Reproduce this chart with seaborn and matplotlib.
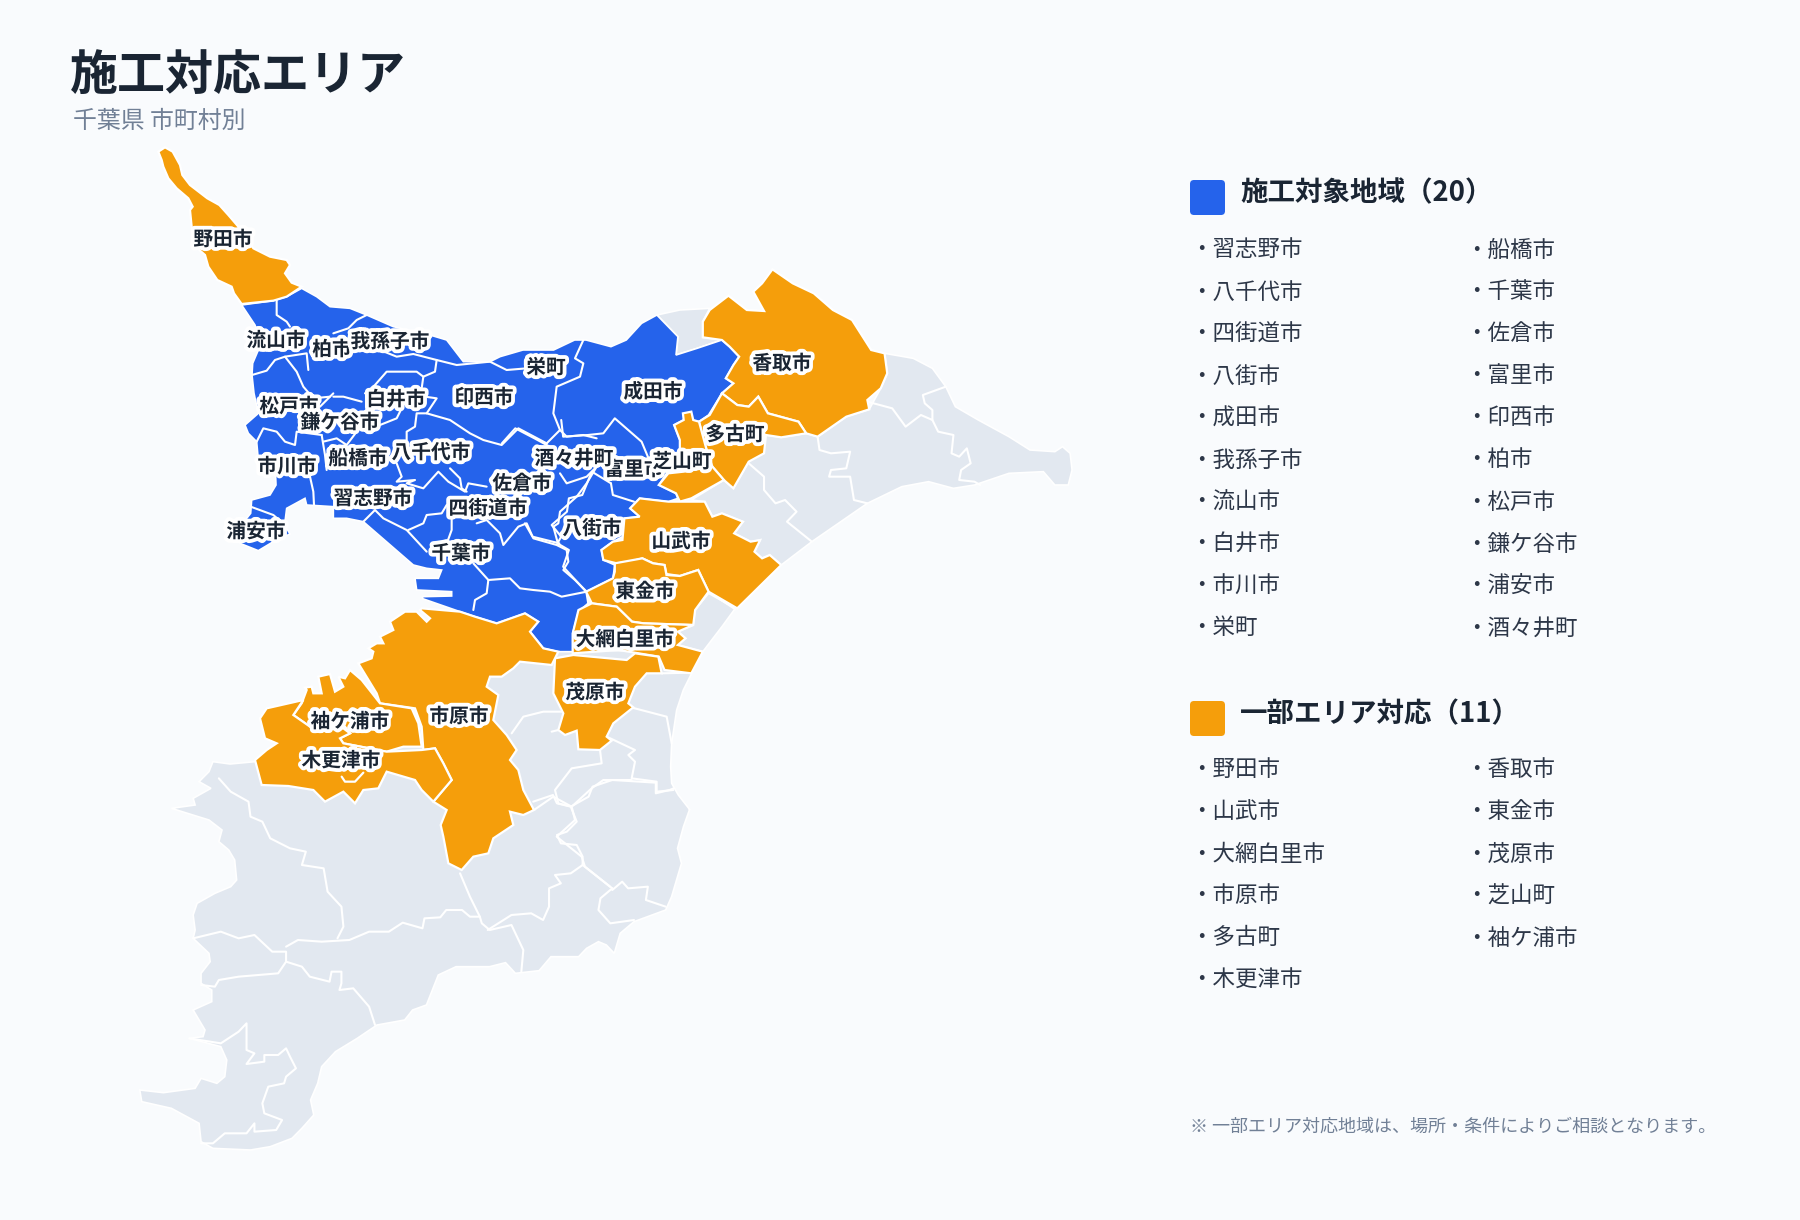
import pandas as pd
import matplotlib
matplotlib.use("Agg")
import matplotlib.pyplot as plt
import matplotlib.patheffects as pe
from matplotlib.patches import FancyBboxPatch
import seaborn as sns

# Text of the chart
title = "施工対応エリア"
subtitle = "千葉県 市町村別"
note = "※ 一部エリア対応地域は、場所・条件によりご相談となります。"
full_heading = "施工対象地域（20）"
part_heading = "一部エリア対応（11）"
full_col1 = ["習志野市", "八千代市", "四街道市", "八街市", "成田市", "我孫子市", "流山市", "白井市", "市川市", "栄町"]
full_col2 = ["船橋市", "千葉市", "佐倉市", "富里市", "印西市", "柏市", "松戸市", "鎌ケ谷市", "浦安市", "酒々井町"]
part_col1 = ["野田市", "山武市", "大網白里市", "市原市", "多古町", "木更津市"]
part_col2 = ["香取市", "東金市", "茂原市", "芝山町", "袖ケ浦市"]

# Map labels, later ones sit on top of earlier ones
map_names = ["野田市", "流山市", "柏市", "我孫子市", "栄町", "成田市", "香取市", "松戸市", "白井市", "印西市",
             "鎌ケ谷市", "多古町", "市川市", "船橋市", "八千代市", "富里市", "酒々井町", "芝山町", "佐倉市",
             "習志野市", "四街道市", "浦安市", "八街市", "山武市", "千葉市", "東金市", "大網白里市", "茂原市",
             "袖ケ浦市", "市原市", "木更津市"]
map_x = [223, 276, 332, 390, 546, 653, 782, 289, 396, 484, 340, 735, 287, 358, 431, 634, 574, 682, 522,
         373, 488, 256, 592, 681, 461, 645, 625, 595, 350, 459, 341]
map_y = [240, 341, 350, 342, 368, 392, 364, 407, 400, 398, 423, 435, 467, 459, 453, 470, 459, 462, 484,
         499, 509, 532, 529, 542, 554, 592, 640, 693, 722, 717, 761]

NW = (130, 130, 3.0, 3.0)
NE = (500, 250, 1568 / 600, 3.0)
MID = (230, 580, 3.0, 3.0)
SW = (120, 760, 1568 / 620, 3.0)


def px(view, pts):
    x0, y0, sx, sy = view
    return [(x0 + a / sx, y0 + b / sy) for a, b in pts]


noda = px(NW, [(85, 65), (105, 52), (128, 65), (150, 105), (157, 135), (180, 165), (232, 205), (268, 225), (295, 255),
               (325, 290), (370, 355), (420, 380), (470, 390), (480, 405), (465, 430), (485, 458), (515, 470),
               (470, 500), (430, 512), (335, 522), (312, 490), (305, 470), (262, 450), (235, 410), (225, 375),
               (208, 360), (185, 290), (180, 240), (188, 230), (175, 205), (140, 175), (115, 145), (100, 110), (95, 90)])
katori = px(NE, [(548, 180), (597, 137), (645, 180), (690, 183), (662, 125), (685, 100), (712, 58), (765, 100),
                 (820, 130), (870, 180), (920, 210), (970, 300), (1005, 310), (1012, 370), (995, 415), (960, 450),
                 (965, 478), (905, 500), (830, 560), (800, 550), (780, 515), (700, 490), (675, 440), (650, 470),
                 (620, 465), (580, 430), (610, 400), (590, 385), (610, 345), (625, 320), (600, 290), (580, 270),
                 (530, 262), (530, 215)])
tako = px(NE, [(580, 430), (620, 465), (650, 470), (675, 440), (700, 490), (780, 515), (800, 550), (735, 562),
               (695, 555), (690, 610), (650, 635), (610, 715), (585, 690), (555, 650), (540, 600), (520, 515), (548, 495)])
tako_west = px(NE, [(455, 525), (480, 510), (478, 490), (500, 485), (505, 510), (520, 515), (540, 600), (470, 600), (470, 570)])
shibayama = px(NE, [(555, 650), (585, 690), (500, 745), (470, 755), (460, 730), (415, 705), (440, 670), (480, 665)])
sanmu = px(NE, [(365, 745), (440, 755), (535, 755), (555, 800), (580, 790), (635, 815), (612, 850), (655, 875),
                (680, 870), (665, 905), (685, 925), (705, 915), (735, 945), (620, 1075), (545, 1025), (518, 960),
                (470, 978), (435, 972), (430, 945), (400, 940), (372, 925), (340, 935), (305, 940), (270, 930),
                (265, 900), (295, 875), (320, 870), (325, 805), (365, 800), (340, 775)])
togane = px(NE, [(300, 940), (372, 925), (400, 940), (430, 945), (435, 975), (470, 978), (518, 960), (545, 1025),
                 (510, 1080), (505, 1125), (375, 1120), (345, 1115), (305, 1070), (240, 1060), (225, 1025), (295, 985), (300, 965)])
oamishirasato = px(NE, [(240, 1060), (305, 1070), (345, 1115), (375, 1120), (505, 1125), (465, 1145), (485, 1165),
                        (465, 1185), (530, 1205), (500, 1270), (430, 1260), (415, 1220), (310, 1200), (190, 1210),
                        (190, 1150), (205, 1080)])
mobara = px(MID, [(975, 235), (1030, 225), (1190, 240), (1215, 220), (1285, 230), (1295, 280), (1250, 280), (1215, 320),
                  (1195, 370), (1210, 382), (1150, 430), (1130, 470), (1145, 482), (1110, 510), (1045, 508), (1040, 452),
                  (1005, 465), (985, 450), (1000, 400), (970, 340)])
ichihara = px(MID, [(575, 85), (690, 95), (735, 110), (800, 130), (885, 100), (925, 125), (900, 155), (940, 205),
                    (985, 215), (965, 255), (870, 245), (850, 265), (815, 290), (780, 290), (770, 320), (805, 345),
                    (790, 420), (830, 465), (860, 510), (840, 540), (865, 570), (880, 630), (912, 690), (880, 705),
                    (840, 695), (850, 735), (790, 775), (775, 820), (730, 830), (695, 870), (655, 850), (640, 770),
                    (632, 735), (650, 690), (610, 665), (665, 600), (640, 550), (615, 505), (580, 510), (575, 440),
                    (555, 385), (450, 370), (440, 340), (385, 250), (425, 235), (430, 215), (415, 205), (440, 190),
                    (460, 190), (450, 170), (490, 150), (480, 125), (525, 95), (560, 95), (590, 125), (600, 115), (570, 90)])
sodegaura = px(MID, [(230, 330), (225, 323), (245, 320), (250, 340), (275, 340), (265, 290), (300, 282), (315, 335),
                     (340, 320), (325, 290), (345, 295), (360, 270), (395, 300), (450, 370), (545, 385), (565, 430),
                     (575, 500), (520, 500), (470, 515), (340, 490), (330, 475), (360, 460), (345, 440), (240, 440),
                     (190, 405), (215, 370)])
kisarazu = px(MID, [(220, 360), (190, 405), (240, 440), (340, 445), (360, 460), (330, 475), (340, 490), (470, 515),
                    (575, 510), (615, 505), (640, 550), (665, 600), (610, 665), (575, 630), (555, 600), (470, 575),
                    (445, 625), (400, 630), (375, 670), (340, 635), (285, 665), (250, 630), (175, 618), (95, 615),
                    (75, 540), (110, 510), (140, 490), (105, 475), (90, 415), (110, 385)])
partial_areas = [noda, katori, tako, tako_west, shibayama, sanmu, togane, oamishirasato, mobara, ichihara, sodegaura, kisarazu]

full_area = (
    px(NW, [(335, 525), (375, 585), (385, 620), (385, 660), (368, 700), (366, 735), (372, 790), (385, 850), (345, 885),
            (355, 910), (380, 935), (385, 990), (437, 1040), (438, 1065), (420, 1095), (365, 1110), (362, 1150),
            (330, 1190), (295, 1200), (330, 1240), (385, 1262), (430, 1235), (480, 1212), (470, 1195), (465, 1175),
            (470, 1135), (525, 1105), (530, 1125), (610, 1130), (610, 1165), (650, 1165), (700, 1175), (850, 1305),
            (890, 1315), (935, 1320), (925, 1345), (855, 1345), (860, 1380), (965, 1385), (965, 1398), (880, 1400)])
    + px(MID, [(575, 55), (690, 95), (735, 110), (800, 130), (885, 100), (925, 125), (900, 155), (940, 205), (985, 215), (1030, 215)])
    + px(NE, [(190, 1200), (190, 1150), (205, 1085), (230, 1060), (225, 1025), (295, 985), (300, 945), (270, 930),
              (265, 900), (295, 875), (320, 860), (325, 805), (365, 800), (340, 775), (365, 745), (440, 755), (465, 745),
              (460, 730), (415, 705), (435, 670), (470, 600), (470, 570), (455, 525), (480, 510), (520, 515), (545, 495),
              (580, 430), (610, 400), (590, 385), (610, 345), (625, 320), (600, 290), (580, 270), (515, 295), (460, 315),
              (465, 260), (410, 195), (370, 220), (330, 270), (290, 290), (225, 270), (195, 270), (140, 300), (60, 300), (0, 320)])
    + px(NW, [(1080, 695), (1000, 695), (950, 630), (900, 615), (790, 590), (710, 555), (660, 535), (600, 530), (560, 500),
              (515, 475), (470, 500), (430, 512)])
)

gray_north = px(NE, [(410, 195), (470, 180), (548, 175), (530, 215), (530, 262), (580, 270), (515, 295), (460, 315), (465, 260)])
gray_east = px(NE, [(830, 560), (905, 500), (965, 478), (995, 415), (1012, 370), (1005, 310), (1080, 325), (1130, 355),
                    (1165, 410), (1190, 470), (1250, 510), (1330, 560), (1385, 600), (1450, 605), (1470, 590), (1490, 610),
                    (1495, 660), (1485, 705), (1450, 705), (1420, 665), (1330, 670), (1240, 705), (1185, 715), (1120, 695),
                    (1050, 710), (960, 760), (815, 875), (735, 945), (705, 915), (685, 925), (665, 905), (680, 870),
                    (655, 875), (612, 850), (635, 815), (580, 790), (555, 800), (535, 755), (500, 750), (585, 690),
                    (610, 715), (650, 635), (695, 555), (735, 562), (800, 550)])
gray_strip = px(NE, [(545, 1030), (615, 1075), (580, 1130), (530, 1205), (465, 1185), (485, 1165), (465, 1145), (505, 1125), (510, 1080)])
gray_south = (
    px(SW, [(235, 5), (225, 35), (200, 65), (230, 85), (185, 115), (190, 135), (130, 145), (225, 180), (258, 210), (250, 245),
            (275, 270), (290, 300), (295, 360), (280, 380), (240, 400), (195, 430), (185, 465), (190, 510), (185, 535), (225, 580), (228, 605),
            (205, 640), (205, 670), (232, 690), (232, 725), (185, 750), (215, 810), (210, 830), (175, 835), (255, 860),
            (270, 900), (265, 950), (245, 970), (205, 955), (190, 985), (110, 998), (50, 990), (55, 1025), (130, 1045),
            (200, 1090), (205, 1145), (235, 1165), (330, 1170), (380, 1160), (435, 1135), (460, 1105), (490, 1065), (482, 1020),
            (500, 970), (510, 920), (545, 875), (600, 835), (650, 795), (720, 780), (740, 750), (775, 735), (790, 690), (805, 645), (850, 620),
            (935, 620), (975, 608), (1000, 640), (1060, 632), (1090, 590), (1160, 590), (1180, 565), (1210, 545),
            (1230, 555), (1250, 580), (1265, 520), (1300, 485), (1380, 450), (1395, 410), (1420, 310), (1410, 265), (1425, 200), (1440, 150)])
    + px(MID, [(1380, 690), (1345, 645), (1325, 610), (1322, 560), (1325, 490), (1340, 390), (1360, 330), (1385, 280), (1415, 215), (1000, 210), (860, 200),
               (700, 350), (500, 500), (100, 550), (75, 545), (0, 552)])
)
gray_areas = [gray_north, gray_east, gray_strip, gray_south]

# Inner municipal borders
nw_borders = [
    [(440, 512), (440, 555), (470, 575), (480, 590)],
    [(366, 735), (410, 722), (435, 690), (465, 680), (500, 725), (520, 770), (550, 805), (600, 800)],
    [(465, 680), (530, 670), (535, 720)],
    [(610, 610), (655, 595), (680, 570), (710, 555)],
    [(665, 640), (750, 660), (800, 680), (850, 672), (920, 690), (980, 705), (1080, 695), (1130, 720), (1190, 715)],
    [(920, 690), (915, 725), (880, 740), (860, 725), (770, 725), (735, 765), (705, 790)],
    [(880, 740), (875, 775)],
    [(885, 800), (920, 805), (890, 850), (860, 850), (855, 890), (830, 905), (830, 930)],
    [(890, 850), (960, 870), (1020, 910), (1060, 930), (1115, 945), (1165, 895), (1250, 940)],
    [(800, 1000), (815, 1040), (800, 1055), (855, 1050), (830, 1060), (880, 1075), (925, 1025), (955, 1055), (1005, 1085), (1015, 1060), (1070, 1070)],
    [(960, 1015), (990, 1045), (995, 1075), (1010, 1085)],
    [(950, 1125), (935, 1150), (890, 1155), (880, 1180), (835, 1200)],
    [(965, 1165), (965, 1200), (945, 1255)],
    [(700, 1175), (735, 1140), (760, 1165), (830, 1200), (890, 1265)],
    [(1040, 1180), (1070, 1170), (1110, 1210), (1120, 1245), (1165, 1190), (1190, 1180), (1210, 1225), (1280, 1245), (1310, 1260),
     (1315, 1295), (1300, 1320), (1335, 1350), (1370, 1385)],
    [(1075, 1350), (1140, 1345), (1170, 1375), (1210, 1380), (1260, 1385), (1295, 1400), (1370, 1385)],
    [(1030, 1300), (1075, 1350), (1070, 1390), (1035, 1410), (1030, 1440)],
    [(575, 915), (585, 975), (590, 1020)],
    [(380, 935), (400, 895), (440, 905), (465, 935), (495, 945), (500, 905), (575, 915)],
    [(540, 1040), (550, 1085), (552, 1125)],
    [(610, 800), (640, 800), (695, 815)],
    [(610, 790), (570, 830)],
    [(750, 885), (800, 865), (815, 835)],
    [(680, 905), (650, 945), (620, 925), (580, 935)],
    [(1250, 940), (1290, 900), (1270, 850), (1280, 770), (1350, 740), (1360, 700), (1335, 685), (1360, 630)],
    [(1290, 900), (1310, 920), (1360, 915), (1400, 925)],
    [(1400, 1010), (1370, 1060), (1340, 1100), (1290, 1145), (1285, 1180), (1270, 1190), (1285, 1245)],
    [(1290, 1030), (1310, 1060), (1370, 1040), (1400, 1010)],
    [(362, 1130), (430, 1155), (470, 1190)],
]
ne_borders = [
    [(160, 510), (165, 560), (230, 555), (270, 550), (300, 505), (370, 575), (390, 630)],
    [(5, 580), (40, 535), (90, 565), (130, 590)],
    [(290, 700), (295, 735), (350, 755)],
    [(290, 700), (240, 665), (215, 735), (180, 745), (175, 785), (135, 825), (160, 860), (150, 880), (180, 900), (165, 950), (225, 1025)],
    [(65, 820), (85, 860), (155, 880)],
    # gray side
    [(1165, 410), (1105, 435), (1110, 460), (1130, 480), (1130, 510), (1100, 495), (1060, 530), (1025, 475), (960, 455)],
    [(1130, 510), (1145, 545), (1185, 555), (1180, 610), (1200, 620), (1220, 595), (1230, 640), (1205, 660), (1200, 690), (1240, 695), (1255, 705)],
    [(830, 560), (835, 600), (865, 610), (915, 605), (905, 655), (865, 660), (860, 680), (915, 680), (925, 750), (960, 760)],
    [(650, 640), (690, 680), (690, 720), (720, 760), (745, 750), (775, 785), (750, 815), (815, 875)],
    [(545, 1025), (615, 1078)],
]
mid_borders = [
    [(845, 460), (880, 410), (940, 395), (1000, 395)],
    [(985, 450), (965, 455)],
    [(1130, 470), (1215, 510), (1195, 525), (1215, 545), (1205, 595), (1280, 605), (1280, 635), (1330, 630)],
    [(1195, 380), (1310, 410), (1325, 490)],
    [(1110, 510), (1115, 550), (1025, 565), (975, 630), (985, 670), (1025, 680)],
    [(1205, 600), (1120, 600), (1085, 625), (1025, 680), (1035, 720), (980, 770), (1055, 830), (1065, 860), (1140, 920)],
    [(912, 690), (970, 650), (1025, 680)],
    [(1295, 280), (1385, 278)],
]
sw_borders = [
    [(250, 55), (280, 95), (325, 125), (330, 170), (360, 185), (380, 235), (430, 265), (470, 275), (460, 315), (515, 325), (525, 395), (560, 440), (565, 500), (550, 535)],
    [(185, 535), (255, 515), (300, 535), (340, 525), (385, 575), (420, 575), (420, 605)],
    [(420, 560), (450, 540), (510, 545), (580, 540), (630, 515), (680, 515), (715, 488), (765, 505), (770, 475), (810, 472), (825, 450), (865, 450), (885, 470), (910, 470)],
    [(860, 340), (885, 410), (910, 470), (915, 490), (935, 510), (990, 495), (1020, 570), (1015, 635)],
    [(930, 510), (990, 465), (1040, 460), (1070, 480), (1085, 440), (1085, 385), (1115, 370), (1100, 345), (1140, 340), (1170, 315), (1245, 385)],
    [(1045, 125), (1095, 105), (1105, 130), (1140, 140), (1155, 185), (1130, 215), (1105, 225), (1115, 250), (1155, 255), (1170, 290), (1170, 315)],
    [(1245, 385), (1215, 415), (1210, 450), (1240, 490), (1300, 480)],
    [(1245, 390), (1270, 365), (1285, 385), (1335, 380), (1330, 420), (1380, 440)],
    [(1140, 140), (1185, 110), (1195, 80), (1245, 60), (1355, 68), (1355, 100), (1390, 90), (1400, 85)],
    [(420, 605), (460, 620), (480, 650), (530, 665), (535, 635), (560, 635), (560, 670), (555, 690), (590, 685), (630, 740), (645, 795)],
    [(420, 605), (400, 640), (300, 650), (250, 660), (240, 680), (205, 675)],
    [(175, 835), (255, 850), (300, 815), (320, 790), (320, 870), (340, 880), (320, 912), (365, 905), (365, 885), (400, 885), (420, 865),
     (430, 890), (445, 925), (420, 950), (415, 970), (375, 980), (360, 1030), (365, 1060), (410, 1080), (395, 1110), (340, 1115), (340, 1090),
     (320, 1120), (265, 1120), (235, 1150), (205, 1150)],
]
kisarazu_loop = px(MID, [(335, 590), (345, 605), (375, 605), (400, 578)])

# Colours
BG = "#f9fbfd"
FULL, PART, REST = sns.color_palette(["#2563eb", "#f59e0b", "#e2e8f0"])
INK = "#1a2533"
LIST_INK = "#2d3748"
MUTED = "#718096"

sns.set_theme(style="white", rc={"figure.facecolor": BG, "axes.facecolor": BG})
plt.rcParams["font.family"] = ["Noto Sans CJK JP", "DejaVu Sans"]

fig = plt.figure(figsize=(18, 12.2), dpi=100)
ax = fig.add_axes([0, 0, 1, 1])
ax.set_xlim(0, 1800)
ax.set_ylim(1220, 0)
ax.axis("off")

for poly in gray_areas:
    ax.fill(*zip(*poly), color=REST, ec="white", lw=1.2, zorder=1)
ax.fill(*zip(*full_area), color=FULL, ec="white", lw=1.2, zorder=2)

# borders as one long table, one unit per line
rows = []
for view, lines in [(NW, nw_borders), (NE, ne_borders), (MID, mid_borders), (SW, sw_borders)]:
    for line in lines:
        uid = len(set(r[0] for r in rows))
        rows += [(uid, x, y) for x, y in px(view, line)]
border_df = pd.DataFrame(rows, columns=["line", "x", "y"])
sns.lineplot(data=border_df, x="x", y="y", units="line", estimator=None, sort=False,
             color="white", lw=1.5, ax=ax, zorder=3)
ax.set_xlim(0, 1800)
ax.set_ylim(1220, 0)
ax.axis("off")

for poly in partial_areas:
    ax.fill(*zip(*poly), color=PART, ec="white", lw=1.6, zorder=4)
ax.plot(*zip(*kisarazu_loop), color="white", lw=1.6, zorder=5)

halo = [pe.withStroke(linewidth=5.5, foreground="white")]
for i, (name, x, y) in enumerate(zip(map_names, map_x, map_y)):
    ax.text(x, y, name, fontsize=14.2, fontweight="bold", color=INK, ha="center", va="center",
            path_effects=halo, zorder=10 + i)

ax.text(70, 76, title, fontsize=34.6, fontweight="bold", color=INK, ha="left", va="center")
ax.text(73, 121, subtitle, fontsize=17.2, color=MUTED, ha="left", va="center")


def legend_block(y_head, colour, heading, col1, col2, y_first):
    ax.add_patch(FancyBboxPatch((1194, y_head - 7), 27, 27, boxstyle="round,pad=4,rounding_size=4",
                                fc=colour, ec="none", zorder=3))
    ax.text(1240, y_head + 2, heading, fontsize=19.8, fontweight="bold", color=INK, ha="left", va="center")
    for xpos, col in [(1190, col1), (1465, col2)]:
        for k, name in enumerate(col):
            ax.text(xpos, y_first + 2 + 42 * k, "・" + name, fontsize=16.2, color=LIST_INK, ha="left", va="center")


legend_block(191, FULL, full_heading, full_col1, full_col2, 248)
legend_block(712, PART, part_heading, part_col1, part_col2, 768)
ax.text(1190, 1127, note, fontsize=13, color=MUTED, ha="left", va="center")

fig.savefig("out.png", dpi=100, facecolor=BG)
